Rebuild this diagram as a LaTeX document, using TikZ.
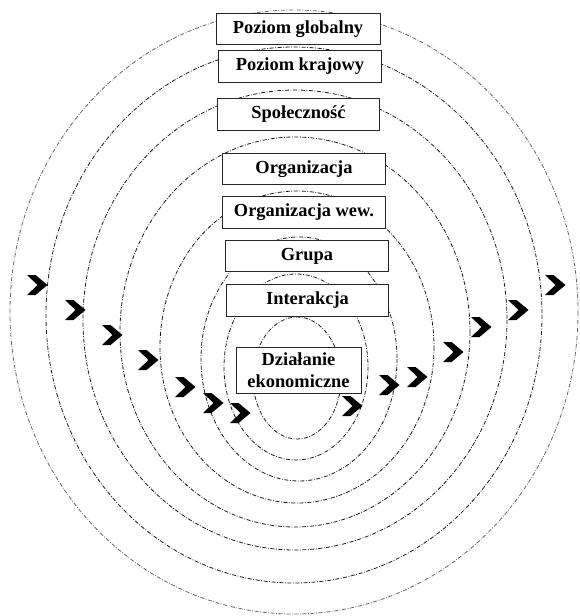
\documentclass[tikz,border=0pt]{standalone}
\usepackage{fontspec}
\setmainfont{Liberation Serif}
\begin{document}
\begin{tikzpicture}[x=0.75pt, y=-0.75pt,
  ring/.style={draw=black!90, line width=0.6pt,
    dash pattern=on 3pt off 1.2pt on 0.6pt off 1.2pt},
  outerring/.style={ring, draw=black!60},
  level/.style={draw=black!85, line width=0.6pt, fill=white, inner sep=0pt,
    minimum width=122pt, minimum height=23.5pt, align=center,
    font=\fontsize{13.8}{16.5}\selectfont\bfseries},
  chev/.pic={\fill[black] (-10,-10) -- (-1.5,-10) -- (10.5,0) -- (-1.5,10) -- (-10,10) -- (0.5,0) -- cycle;}
]
\useasboundingbox (0,0) rectangle (579,616);

% concentric levels, outermost first
\draw[outerring] (294,312) ellipse [x radius=284, y radius=302];
\draw[ring] (294,315) ellipse [x radius=248, y radius=268];
\draw[ring] (295,320) ellipse [x radius=212, y radius=230];
\draw[ring] (295,332) ellipse [x radius=175, y radius=195];
\draw[ring] (297,347) ellipse [x radius=137, y radius=156];
\draw[ring] (299,359) ellipse [x radius=98, y radius=122];
\draw[ring] (296,367) ellipse [x radius=72, y radius=93];
\draw[ring] (297,378) ellipse [x radius=44, y radius=61];

% chevrons crossing the rings
\foreach \p in {(37,285),(75,310),(112,335),(148,360),(185,387),(213,403),(240,413),
                (352,406),(389,385),(417,377),(453,352),(481,327),(518,310),(555,285)}
  \pic at \p {chev};

% level labels
\node[level, minimum width=123pt] (glob) at (298,29) {Poziom globalny};
\node[level] (kraj) at (300,66.5) {Poziom krajowy};
\node[level] (spol) at (298.5,114.5) {Społeczność};
\node[level] (org)  at (304,169) {Organizacja};
\node[level] (orgw) at (304,212.5) {Organizacja wew.};
\node[level] (grup) at (307,256) {Grupa};
\node[level] (inter) at (307.5,300.5) {Interakcja};
\node[level, minimum width=93.75pt, minimum height=34.5pt] (dzial) at (298.5,370)
  {Działanie\\ekonomiczne};
\end{tikzpicture}
\end{document}
